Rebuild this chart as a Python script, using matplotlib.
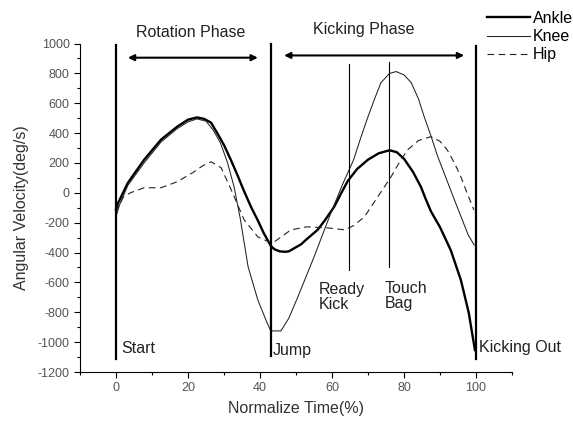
import matplotlib
matplotlib.use("Agg")
import matplotlib.pyplot as plt
from matplotlib.ticker import MultipleLocator

plt.rcParams['font.family'] = ['Liberation Sans', 'DejaVu Sans']
plt.rcParams['axes.unicode_minus'] = False

# Data
ankle_x = [0, 0.6, 3.3, 7.8, 12.5, 17, 20, 22.5, 24.5, 26.4, 28, 30, 32, 33.8, 35.5, 37.5, 39.5, 41, 43,
           44, 45.5, 47, 48, 51.4, 53, 56, 58, 60.6, 62.5, 64.4, 67, 70, 73, 76, 78, 80, 82.5, 84.7,
           86, 87.5, 90, 93, 95.8, 98, 99.7]
ankle_y = [-110, -67, 67, 221, 356, 443, 490, 505, 495, 470, 405, 320, 215, 115, 15, -94, -190, -268, -355,
           -378, -392, -395, -392, -345, -310, -248, -185, -94, -5, 80, 160, 222, 265, 285, 272, 228, 140, 40,
           -40, -125, -230, -385, -584, -805, -1053]

knee_x = [0, 1, 3.3, 7.8, 12.5, 17, 20, 22.5, 25, 27, 29, 31, 32.8, 34.5, 36.7, 39.4, 42, 43,
          45.8, 48, 50.5, 55, 59.7, 63, 66, 68, 70, 72, 73.6, 76, 77.8, 80, 82, 84, 85.6, 87.5, 89.4,
          91.5, 94, 97.8, 99.5]
knee_y = [-160, -80, 50, 200, 340, 430, 475, 495, 480, 420, 335, 200, 40, -170, -496, -718, -872, -925,
          -925, -840, -698, -430, -134, 60, 221, 370, 510, 640, 738, 800, 812, 790, 738, 630, 510, 380, 241,
          110, -47, -280, -350]

hip_x = [0, 2, 4, 7.8, 12.5, 17, 21.7, 24, 26.4, 29.2, 32, 35.6, 39.4, 43, 44, 48.6, 53, 58.8,
         63.5, 66, 69, 72.7, 76.4, 78.5, 81, 84, 87.5, 90, 92, 94, 95.8, 97.5, 99.4]
hip_y = [-130, -30, 0, 34, 34, 74, 141, 180, 208, 168, 20, -181, -295, -335, -328, -248, -228, -235,
         -248, -220, -161, -27, 107, 195, 288, 350, 376, 345, 288, 200, 107, 0, -114]

event_x = [0, 43, 100]
event_bottom = [-1110, -1095, -1110]
event_top = [990, 1000, 980]
event_labels = ["Start", "Jump", "Kicking Out"]

mark_x = [64.7, 75.7]
mark_bottom = [-517, -497]
mark_top = [860, 873]
mark_labels = ["Ready\nKick", "Touch\nBag"]

fig = plt.figure(figsize=(5.73, 4.23), dpi=100)
ax = fig.add_axes([80/573, 1 - 372/423, (512-80)/573, (372-43.5)/423])

ax.plot(ankle_x, ankle_y, color='black', lw=1.7, label='Ankle')
ax.plot(knee_x, knee_y, color='#222222', lw=0.75, label='Knee')
ax.plot(hip_x, hip_y, color='#222222', lw=0.8, linestyle=(0, (6, 4)), label='Hip')

for x, b, t in zip(event_x, event_bottom, event_top):
    ax.plot([x, x], [b, t], color='black', lw=1.6, clip_on=False)
for x, b, t in zip(mark_x, mark_bottom, mark_top):
    ax.plot([x, x], [b, t], color='black', lw=0.8, clip_on=False)

txt_kw = dict(fontsize=11.5, color='#222222')
ax.text(1.5, -1040, event_labels[0], va='center', ha='left', **txt_kw)
ax.text(43.6, -1055, event_labels[1], va='center', ha='left', **txt_kw)
ax.text(100.8, -1035, event_labels[2], va='center', ha='left', **txt_kw)
ax.text(56.4, -695, mark_labels[0], va='center', ha='left', linespacing=1.0, **txt_kw)
ax.text(74.7, -690, mark_labels[1], va='center', ha='left', linespacing=1.0, **txt_kw)

ax.annotate('', xy=(3.3, 905), xytext=(39.4, 905),
            arrowprops=dict(arrowstyle='<|-|>', color='black', lw=1.5, mutation_scale=9,
                            shrinkA=0, shrinkB=0), annotation_clip=False)
ax.annotate('', xy=(46.7, 920), xytext=(96.7, 920),
            arrowprops=dict(arrowstyle='<|-|>', color='black', lw=1.5, mutation_scale=9,
                            shrinkA=0, shrinkB=0), annotation_clip=False)
ax.text(20.8, 1075, "Rotation Phase", ha='center', va='center', clip_on=False, **txt_kw)
ax.text(68.9, 1094, "Kicking Phase", ha='center', va='center', clip_on=False, **txt_kw)

ax.set_xlim(-10, 110)
ax.set_ylim(-1200, 1000)
ax.xaxis.set_minor_locator(MultipleLocator(10))
ax.yaxis.set_major_locator(MultipleLocator(200))
ax.yaxis.set_minor_locator(MultipleLocator(100))
ax.set_xticks([0, 20, 40, 60, 80, 100])
ax.tick_params(which='major', direction='out', length=4, width=0.8, labelsize=9, labelcolor='#555555')
ax.tick_params(which='minor', direction='out', length=2.5, width=0.8)
ax.spines['top'].set_visible(False)
ax.spines['right'].set_visible(False)
ax.spines['left'].set_linewidth(0.8)
ax.spines['bottom'].set_linewidth(0.8)
ax.set_xlabel("Normalize Time(%)", fontsize=11.5, color='#333333', labelpad=5)
ax.set_ylabel("Angular Velocity(deg/s)", fontsize=11.5, color='#333333', labelpad=6)

fig.legend(loc='upper left', bbox_to_anchor=(487/573, 1 - 11/423), bbox_transform=fig.transFigure,
           frameon=False, fontsize=11.5, handlelength=2.7, handletextpad=0.15,
           labelspacing=0.2, borderpad=0, borderaxespad=0)

fig.savefig("out.png", dpi=100)
